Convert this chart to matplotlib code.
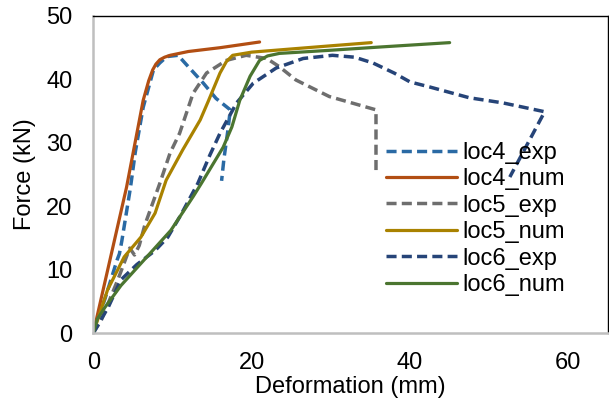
import matplotlib
matplotlib.use("Agg")
import matplotlib.pyplot as plt

plt.rcParams['font.family'] = ['Liberation Sans', 'DejaVu Sans']

# ---- data ----
loc4_exp_x = [0, 1.5, 3.0, 3.3, 3.6, 4.7, 5.3, 6.3, 7.6, 8.4, 9.3, 10.7, 12.0, 13.9, 15.5, 17.3, 17.0, 16.5, 16.2]
loc4_exp_y = [0, 5.5, 11.5, 12.5, 14.5, 23.0, 28.5, 35.6, 41.5, 42.6, 43.6, 43.8, 42.0, 39.4, 37.0, 35.2, 32.0, 27.5, 24.0]

loc4_num_x = [0, 4.2, 6.3, 7.0, 7.5, 7.9, 8.4, 9.0, 9.7, 12.0, 16.0, 21.0]
loc4_num_y = [0, 23.0, 36.7, 39.8, 41.5, 42.4, 43.1, 43.5, 43.8, 44.4, 45.0, 45.9]

loc5_exp_x = [0, 1.0, 3.1, 4.6, 5.2, 5.8, 6.5, 8.4, 9.7, 10.9, 12.6, 14.3, 16.8, 19.3, 21.9, 23.5, 25.6, 29.8, 35.7, 35.7]
loc5_exp_y = [0, 2.0, 8.4, 13.4, 12.3, 13.8, 17.0, 23.6, 28.4, 31.5, 37.8, 41.0, 43.0, 43.8, 43.3, 42.0, 39.9, 37.3, 35.2, 25.2]

loc5_num_x = [0, 1.8, 3.9, 6.0, 7.8, 9.2, 11.3, 13.5, 14.5, 16.0, 16.8, 17.6, 20.0, 25.0, 30.0, 35.1]
loc5_num_y = [0, 6.8, 12.0, 15.1, 18.9, 24.1, 28.9, 33.6, 36.5, 41.0, 42.8, 43.8, 44.3, 44.8, 45.3, 45.8]

loc6_exp_x = [0, 1.9, 3.5, 5.5, 7.8, 9.4, 11.0, 13.2, 14.7, 16.0, 18.1, 20.2, 23.1, 26.5, 30.2, 33.0, 35.3, 38.0, 40.0, 42.5, 47.5, 51.7, 57.0, 52.6]
loc6_exp_y = [0, 4.1, 8.4, 10.8, 13.0, 15.1, 18.5, 23.6, 28.0, 31.5, 36.3, 39.4, 41.8, 43.3, 43.8, 43.5, 42.6, 41.0, 39.6, 38.8, 37.1, 36.3, 34.9, 24.6]

loc6_num_x = [0, 0.5, 1.5, 3.5, 5.6, 9.8, 12.6, 13.6, 16.4, 17.5, 18.5, 19.8, 21.0, 22.0, 23.5, 30.0, 36.1, 45.0]
loc6_num_y = [0, 2.2, 4.1, 7.5, 10.4, 16.2, 21.5, 23.5, 29.3, 32.5, 36.7, 40.5, 43.0, 43.7, 44.1, 44.6, 45.1, 45.8]

x_ticks = [0, 20, 40, 60]
y_ticks = [0, 10, 20, 30, 40, 50]

# ---- figure ----
W, H = 609, 398
fig = plt.figure(figsize=(W / 100, H / 100), dpi=100)
L, R, B, T = 93.3, 608, 333, 16
ax = fig.add_axes([L / W, 1 - B / H, (R - L) / W, (B - T) / H])

dash = (2.9, 1.5)
lw_d = 2.5
lw_s = 2.3
ax.plot(loc4_exp_x, loc4_exp_y, color='#2A6AA4', lw=lw_d, dashes=dash, label='loc4_exp')
ax.plot(loc4_num_x, loc4_num_y, color='#B24E13', lw=lw_s, label='loc4_num', solid_capstyle='round')
ax.plot(loc5_exp_x, loc5_exp_y, color='#6E6E6E', lw=lw_d, dashes=dash, label='loc5_exp')
ax.plot(loc5_num_x, loc5_num_y, color='#A98200', lw=lw_s, label='loc5_num', solid_capstyle='round')
ax.plot(loc6_exp_x, loc6_exp_y, color='#264478', lw=lw_d, dashes=dash, label='loc6_exp')
ax.plot(loc6_num_x, loc6_num_y, color='#4B7530', lw=lw_s, label='loc6_num', solid_capstyle='round')

ax.set_xlim(0, 65)
ax.set_ylim(0, 50)
ax.set_xticks(x_ticks)
ax.set_yticks(y_ticks)
ax.tick_params(length=0, labelsize=17)
ax.tick_params(axis='x', pad=14)
ax.tick_params(axis='y', pad=15)

for s in ['top', 'right']:
    ax.spines[s].set_color('black')
    ax.spines[s].set_linewidth(1.0)
for s in ['left', 'bottom']:
    ax.spines[s].set_color('#BFBFBF')
    ax.spines[s].set_linewidth(1.8)

ax.set_xlabel('Deformation (mm)', fontsize=17, va='center')
ax.xaxis.set_label_coords(0.5, (B - 387) / (B - T))
ax.set_ylabel('Force (kN)', fontsize=17, va='center')
ax.yaxis.set_label_coords((25 - L) / (R - L), 0.5)

leg = fig.legend(loc='center left', bbox_to_anchor=(386 / W, 1 - 219 / H),
                 frameon=False, fontsize=17, handlelength=3.0, handletextpad=0.25,
                 labelspacing=0.19, borderpad=0, borderaxespad=0)

fig.savefig('out.png', dpi=100)
